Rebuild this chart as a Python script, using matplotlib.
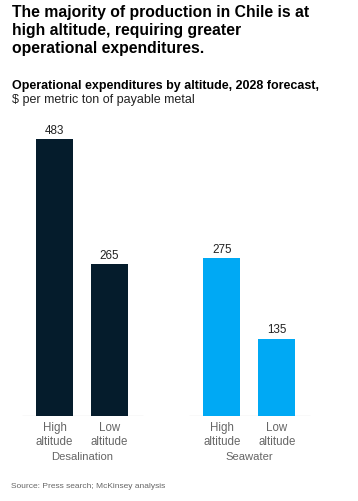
import matplotlib.pyplot as plt

plt.rcParams['font.family'] = ['Liberation Sans', 'DejaVu Sans']

# data
groups = ["Desalination", "Seawater"]
bar_labels = ["High\naltitude", "Low\naltitude", "High\naltitude", "Low\naltitude"]
values = [483, 265, 275, 135]
colors = ["#051c2c", "#051c2c", "#00a9f4", "#00a9f4"]
positions = [0, 1, 3.04, 4.04]

W, H = 358, 502
fig = plt.figure(figsize=(W / 100, H / 100), dpi=100)

# axes laid out in pixel terms: x=0 at 54.5px, 55px per unit; baseline at 417px
px_unit = 55.0
x0 = 54.5
ax = fig.add_axes([0, (H - 417) / H, 1, 309.7 / H])
ax.set_xlim(-x0 / px_unit, (W - x0) / px_unit)
ax.set_ylim(0, 540)
ax.axis('off')

ax.bar(positions, values, width=0.673, color=colors, zorder=2)
for p, v in zip(positions, values):
    ax.text(p, v + 6, str(v), ha='center', va='bottom', fontsize=8.4, color='#222222')

# baseline per group
for g in range(2):
    a, b = positions[2 * g], positions[2 * g + 1]
    ax.plot([a - 0.59, b + 0.6], [0, 0], color='#d0d0d0', lw=0.9, zorder=1,
            solid_capstyle='butt')

# tick labels and group labels in figure pixel coords
def fx(p):
    return (x0 + p * px_unit) / W

def fy(y):
    return 1 - y / H

for p, lab in zip(positions, bar_labels):
    fig.text(fx(p), fy(435), lab, ha='center', va='center', fontsize=8.3,
             color='#666666', linespacing=1.2)
for g, name in enumerate(groups):
    c = (positions[2 * g] + positions[2 * g + 1]) / 2
    fig.text(fx(c), fy(457), name, ha='center', va='center', fontsize=8.1,
             color='#666666')

fig.text(12 / W, fy(5), "The majority of production in Chile is at\nhigh altitude, requiring greater\noperational expenditures.",
         ha='left', va='top', fontsize=11.3, fontweight='bold', color='#000000',
         linespacing=1.27)
fig.text(12 / W, fy(80), "Operational expenditures by altitude, 2028 forecast,",
         ha='left', va='top', fontsize=9.0, fontweight='bold', color='#000000')
fig.text(12 / W, fy(94), "$ per metric ton of payable metal",
         ha='left', va='top', fontsize=9.0, color='#222222')
fig.text(11 / W, fy(487), "Source: Press search; McKinsey analysis",
         ha='left', va='center', fontsize=6.0, color='#666666')

fig.savefig("out.png", dpi=100, facecolor='white')
